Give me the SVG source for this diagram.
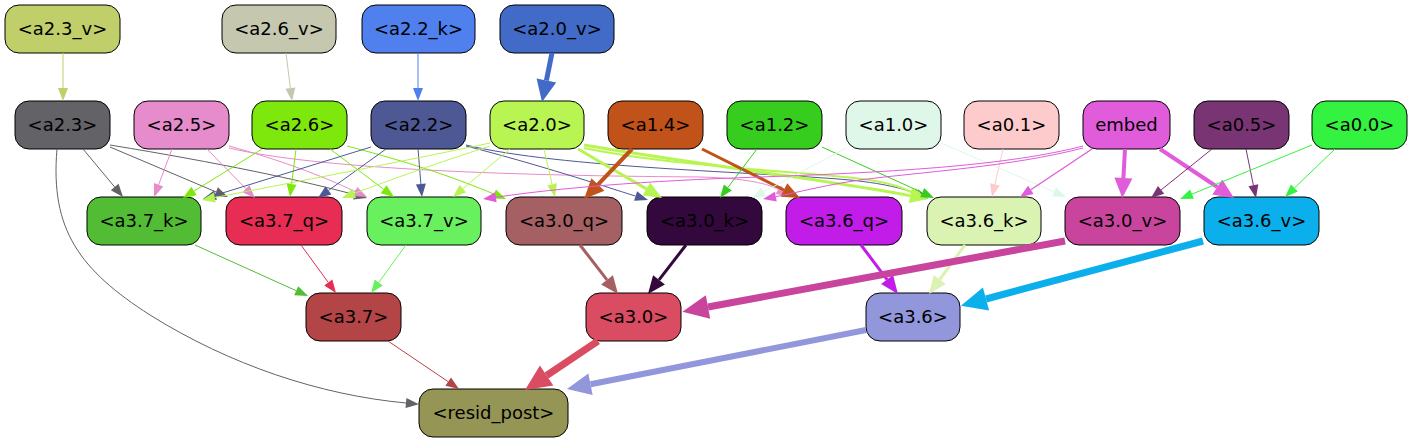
<svg xmlns="http://www.w3.org/2000/svg" width="1413" height="443" viewBox="0 0 1413 443">
<style>
.n rect{stroke:#000;stroke-width:1}
.n text{font-family:"DejaVu Sans","Liberation Sans",sans-serif;font-size:18px;text-anchor:middle;fill:#000}
#edges path{fill:none}
</style>
<defs>
<marker id="t-c1cf6a" markerUnits="userSpaceOnUse" orient="auto" markerWidth="40" markerHeight="40" refX="0" refY="0" overflow="visible"><path d="M0,-5L13,0L0,5z" fill="#c1cf6a"/></marker>
<marker id="t-c5c7ae" markerUnits="userSpaceOnUse" orient="auto" markerWidth="40" markerHeight="40" refX="0" refY="0" overflow="visible"><path d="M0,-5L13,0L0,5z" fill="#c5c7ae"/></marker>
<marker id="t-4f80ee" markerUnits="userSpaceOnUse" orient="auto" markerWidth="40" markerHeight="40" refX="0" refY="0" overflow="visible"><path d="M0,-5L13,0L0,5z" fill="#4f80ee"/></marker>
<marker id="t-636267" markerUnits="userSpaceOnUse" orient="auto" markerWidth="40" markerHeight="40" refX="0" refY="0" overflow="visible"><path d="M0,-5L13,0L0,5z" fill="#636267"/></marker>
<marker id="t-e68bcb" markerUnits="userSpaceOnUse" orient="auto" markerWidth="40" markerHeight="40" refX="0" refY="0" overflow="visible"><path d="M0,-5L13,0L0,5z" fill="#e68bcb"/></marker>
<marker id="t-7ee80c" markerUnits="userSpaceOnUse" orient="auto" markerWidth="40" markerHeight="40" refX="0" refY="0" overflow="visible"><path d="M0,-5L13,0L0,5z" fill="#7ee80c"/></marker>
<marker id="t-4e5895" markerUnits="userSpaceOnUse" orient="auto" markerWidth="40" markerHeight="40" refX="0" refY="0" overflow="visible"><path d="M0,-5L13,0L0,5z" fill="#4e5895"/></marker>
<marker id="t-b9f552" markerUnits="userSpaceOnUse" orient="auto" markerWidth="40" markerHeight="40" refX="0" refY="0" overflow="visible"><path d="M0,-5L13,0L0,5z" fill="#b9f552"/></marker>
<marker id="t-37cd1f" markerUnits="userSpaceOnUse" orient="auto" markerWidth="40" markerHeight="40" refX="0" refY="0" overflow="visible"><path d="M0,-5L13,0L0,5z" fill="#37cd1f"/></marker>
<marker id="t-dff7e9" markerUnits="userSpaceOnUse" orient="auto" markerWidth="40" markerHeight="40" refX="0" refY="0" overflow="visible"><path d="M0,-5L13,0L0,5z" fill="#dff7e9"/></marker>
<marker id="t-fecbcd" markerUnits="userSpaceOnUse" orient="auto" markerWidth="40" markerHeight="40" refX="0" refY="0" overflow="visible"><path d="M0,-5L13,0L0,5z" fill="#fecbcd"/></marker>
<marker id="t-e05cda" markerUnits="userSpaceOnUse" orient="auto" markerWidth="40" markerHeight="40" refX="0" refY="0" overflow="visible"><path d="M0,-5L13,0L0,5z" fill="#e05cda"/></marker>
<marker id="t-793573" markerUnits="userSpaceOnUse" orient="auto" markerWidth="40" markerHeight="40" refX="0" refY="0" overflow="visible"><path d="M0,-5L13,0L0,5z" fill="#793573"/></marker>
<marker id="t-33f240" markerUnits="userSpaceOnUse" orient="auto" markerWidth="40" markerHeight="40" refX="0" refY="0" overflow="visible"><path d="M0,-5L13,0L0,5z" fill="#33f240"/></marker>
<marker id="t-52bd34" markerUnits="userSpaceOnUse" orient="auto" markerWidth="40" markerHeight="40" refX="0" refY="0" overflow="visible"><path d="M0,-5L13,0L0,5z" fill="#52bd34"/></marker>
<marker id="t-e72d54" markerUnits="userSpaceOnUse" orient="auto" markerWidth="40" markerHeight="40" refX="0" refY="0" overflow="visible"><path d="M0,-5L13,0L0,5z" fill="#e72d54"/></marker>
<marker id="t-69f05f" markerUnits="userSpaceOnUse" orient="auto" markerWidth="40" markerHeight="40" refX="0" refY="0" overflow="visible"><path d="M0,-5L13,0L0,5z" fill="#69f05f"/></marker>
<marker id="t-b44546" markerUnits="userSpaceOnUse" orient="auto" markerWidth="40" markerHeight="40" refX="0" refY="0" overflow="visible"><path d="M0,-5L13,0L0,5z" fill="#b44546"/></marker>
<marker id="w2-b9f552" markerUnits="userSpaceOnUse" orient="auto" markerWidth="40" markerHeight="40" refX="0" refY="0" overflow="visible"><path d="M0,-6L15,0L0,6z" fill="#b9f552"/></marker>
<marker id="w3-b9f552" markerUnits="userSpaceOnUse" orient="auto" markerWidth="40" markerHeight="40" refX="0" refY="0" overflow="visible"><path d="M0,-7.5L18,0L0,7.5z" fill="#b9f552"/></marker>
<marker id="w3-c1521a" markerUnits="userSpaceOnUse" orient="auto" markerWidth="40" markerHeight="40" refX="0" refY="0" overflow="visible"><path d="M0,-7.5L18,0L0,7.5z" fill="#c1521a"/></marker>
<marker id="w3-a46063" markerUnits="userSpaceOnUse" orient="auto" markerWidth="40" markerHeight="40" refX="0" refY="0" overflow="visible"><path d="M0,-7.5L18,0L0,7.5z" fill="#a46063"/></marker>
<marker id="w3-33083c" markerUnits="userSpaceOnUse" orient="auto" markerWidth="40" markerHeight="40" refX="0" refY="0" overflow="visible"><path d="M0,-7.5L18,0L0,7.5z" fill="#33083c"/></marker>
<marker id="w3-c21ce9" markerUnits="userSpaceOnUse" orient="auto" markerWidth="40" markerHeight="40" refX="0" refY="0" overflow="visible"><path d="M0,-7.5L18,0L0,7.5z" fill="#c21ce9"/></marker>
<marker id="w3-dbf3b2" markerUnits="userSpaceOnUse" orient="auto" markerWidth="40" markerHeight="40" refX="0" refY="0" overflow="visible"><path d="M0,-7.5L18,0L0,7.5z" fill="#dbf3b2"/></marker>
<marker id="w4-c1521a" markerUnits="userSpaceOnUse" orient="auto" markerWidth="40" markerHeight="40" refX="0" refY="0" overflow="visible"><path d="M0,-9L20,0L0,9z" fill="#c1521a"/></marker>
<marker id="w4-e05cda" markerUnits="userSpaceOnUse" orient="auto" markerWidth="40" markerHeight="40" refX="0" refY="0" overflow="visible"><path d="M0,-9L20,0L0,9z" fill="#e05cda"/></marker>
<marker id="w5-416bc7" markerUnits="userSpaceOnUse" orient="auto" markerWidth="40" markerHeight="40" refX="0" refY="0" overflow="visible"><path d="M0,-10L22,0L0,10z" fill="#416bc7"/></marker>
<marker id="w6-9297db" markerUnits="userSpaceOnUse" orient="auto" markerWidth="40" markerHeight="40" refX="0" refY="0" overflow="visible"><path d="M0,-11L24,0L0,11z" fill="#9297db"/></marker>
<marker id="w7-c9449c" markerUnits="userSpaceOnUse" orient="auto" markerWidth="40" markerHeight="40" refX="0" refY="0" overflow="visible"><path d="M0,-12L26,0L0,12z" fill="#c9449c"/></marker>
<marker id="w7-0aafec" markerUnits="userSpaceOnUse" orient="auto" markerWidth="40" markerHeight="40" refX="0" refY="0" overflow="visible"><path d="M0,-12L26,0L0,12z" fill="#0aafec"/></marker>
<marker id="w7-d94c61" markerUnits="userSpaceOnUse" orient="auto" markerWidth="40" markerHeight="40" refX="0" refY="0" overflow="visible"><path d="M0,-12L26,0L0,12z" fill="#d94c61"/></marker>
</defs>
<rect width="1413" height="443" fill="#fff"/>

<g id="nodes">
<g id="a2.3_v" class="n"><rect x="5" y="5" width="115" height="48" rx="14" fill="#c1cf6a"/><text x="62.5" y="35">&lt;a2.3_v&gt;</text></g>
<g id="a2.6_v" class="n"><rect x="222" y="5" width="114" height="48" rx="14" fill="#c5c7ae"/><text x="279" y="35">&lt;a2.6_v&gt;</text></g>
<g id="a2.2_k" class="n"><rect x="362" y="5" width="113" height="48" rx="14" fill="#4f80ee"/><text x="418.5" y="35">&lt;a2.2_k&gt;</text></g>
<g id="a2.0_v" class="n"><rect x="500" y="5" width="114" height="48" rx="14" fill="#416bc7"/><text x="557" y="35">&lt;a2.0_v&gt;</text></g>

<g id="a2.3" class="n"><rect x="15" y="101" width="95" height="48" rx="14" fill="#636267"/><text x="62.5" y="131">&lt;a2.3&gt;</text></g>
<g id="a2.5" class="n"><rect x="134" y="101" width="95" height="48" rx="14" fill="#e68bcb"/><text x="181.5" y="131">&lt;a2.5&gt;</text></g>
<g id="a2.6" class="n"><rect x="252" y="101" width="95" height="48" rx="14" fill="#7ee80c"/><text x="299.5" y="131">&lt;a2.6&gt;</text></g>
<g id="a2.2" class="n"><rect x="371" y="101" width="95" height="48" rx="14" fill="#4e5895"/><text x="418.5" y="131">&lt;a2.2&gt;</text></g>
<g id="a2.0" class="n"><rect x="490" y="101" width="94" height="48" rx="14" fill="#b9f552"/><text x="537" y="131">&lt;a2.0&gt;</text></g>
<g id="a1.4" class="n"><rect x="608" y="101" width="95" height="48" rx="14" fill="#c1521a"/><text x="655.5" y="131">&lt;a1.4&gt;</text></g>
<g id="a1.2" class="n"><rect x="727" y="101" width="95" height="48" rx="14" fill="#37cd1f"/><text x="774.5" y="131">&lt;a1.2&gt;</text></g>
<g id="a1.0" class="n"><rect x="846" y="101" width="95" height="48" rx="14" fill="#dff7e9"/><text x="893.5" y="131">&lt;a1.0&gt;</text></g>
<g id="a0.1" class="n"><rect x="964" y="101" width="95" height="48" rx="14" fill="#fecbcd"/><text x="1011.5" y="131">&lt;a0.1&gt;</text></g>
<g id="embed" class="n"><rect x="1083" y="101" width="87" height="48" rx="14" fill="#e05cda"/><text x="1126.5" y="131">embed</text></g>
<g id="a0.5" class="n"><rect x="1194" y="101" width="95" height="48" rx="14" fill="#793573"/><text x="1241.5" y="131">&lt;a0.5&gt;</text></g>
<g id="a0.0" class="n"><rect x="1312" y="101" width="95" height="48" rx="14" fill="#33f240"/><text x="1359.5" y="131">&lt;a0.0&gt;</text></g>

<g id="a3.7_k" class="n"><rect x="87" y="197" width="114" height="48" rx="14" fill="#52bd34"/><text x="144" y="227">&lt;a3.7_k&gt;</text></g>
<g id="a3.7_q" class="n"><rect x="226" y="197" width="116" height="48" rx="14" fill="#e72d54"/><text x="284" y="227">&lt;a3.7_q&gt;</text></g>
<g id="a3.7_v" class="n"><rect x="367" y="197" width="114" height="48" rx="14" fill="#69f05f"/><text x="424" y="227">&lt;a3.7_v&gt;</text></g>
<g id="a3.0_q" class="n"><rect x="506" y="197" width="116" height="48" rx="14" fill="#a46063"/><text x="564" y="227">&lt;a3.0_q&gt;</text></g>
<g id="a3.0_k" class="n"><rect x="647" y="197" width="115" height="48" rx="14" fill="#33083c"/><text x="704.5" y="227">&lt;a3.0_k&gt;</text></g>
<g id="a3.6_q" class="n"><rect x="786" y="197" width="116" height="48" rx="14" fill="#c21ce9"/><text x="844" y="227">&lt;a3.6_q&gt;</text></g>
<g id="a3.6_k" class="n"><rect x="927" y="197" width="114" height="48" rx="14" fill="#dbf3b2"/><text x="984" y="227">&lt;a3.6_k&gt;</text></g>
<g id="a3.0_v" class="n"><rect x="1065" y="197" width="115" height="48" rx="14" fill="#c9449c"/><text x="1122.5" y="227">&lt;a3.0_v&gt;</text></g>
<g id="a3.6_v" class="n"><rect x="1204" y="197" width="115" height="48" rx="14" fill="#0aafec"/><text x="1261.5" y="227">&lt;a3.6_v&gt;</text></g>

<g id="a3.7" class="n"><rect x="306" y="293" width="95" height="48" rx="14" fill="#b44546"/><text x="353.5" y="323">&lt;a3.7&gt;</text></g>
<g id="a3.0" class="n"><rect x="586" y="293" width="95" height="48" rx="14" fill="#d94c61"/><text x="633.5" y="323">&lt;a3.0&gt;</text></g>
<g id="a3.6" class="n"><rect x="866" y="293" width="94" height="48" rx="14" fill="#9297db"/><text x="913" y="323">&lt;a3.6&gt;</text></g>

<g id="resid_post" class="n"><rect x="419" y="389" width="149" height="48" rx="14" fill="#959555"/><text x="493.5" y="419">&lt;resid_post&gt;</text></g>
</g>

<g id="edges">
<path d="M63,53L63,88" stroke="#c1cf6a" stroke-width="1" marker-end="url(#t-c1cf6a)"/>
<path d="M286,53L290.4,88.1" stroke="#c5c7ae" stroke-width="1" marker-end="url(#t-c5c7ae)"/>
<path d="M418,53L418,88" stroke="#4f80ee" stroke-width="1" marker-end="url(#t-4f80ee)"/>
<path d="M552,53L546.4,80.4" stroke="#416bc7" stroke-width="5" marker-end="url(#w5-416bc7)"/>

<path d="M83,149L114.7,187" stroke="#636267" stroke-width="1" marker-end="url(#t-636267)"/>
<path d="M110,147L216,191.9" stroke="#636267" stroke-width="1" marker-end="url(#t-636267)"/>
<path d="M110,145C220,163 300,180 354.5,194.6" stroke="#636267" stroke-width="1" marker-end="url(#t-636267)"/>
<path d="M57,149C50,230 80,270 150,315C230,365 320,395 406,403" stroke="#636267" stroke-width="1" marker-end="url(#t-636267)"/>

<path d="M172,149L158.6,184.8" stroke="#e68bcb" stroke-width="1" marker-end="url(#t-e68bcb)"/>
<path d="M207,149L245.9,188.7" stroke="#e68bcb" stroke-width="1" marker-end="url(#t-e68bcb)"/>
<path d="M229,146C280,160 320,175 355.2,191.5" stroke="#e68bcb" stroke-width="1" marker-end="url(#t-e68bcb)"/>
<path d="M229,148C330,172 560,176 700,177C745,178 770,184 778.3,189.7" stroke="#e68bcb" stroke-width="1" marker-end="url(#t-e68bcb)"/>

<path d="M262,149L194,191.1" stroke="#7ee80c" stroke-width="1" marker-end="url(#t-7ee80c)"/>
<path d="M296,149L291.6,184.1" stroke="#7ee80c" stroke-width="1" marker-end="url(#t-7ee80c)"/>
<path d="M330,149L383.6,189.2" stroke="#7ee80c" stroke-width="1" marker-end="url(#t-7ee80c)"/>
<path d="M347,146C420,165 460,180 494,194" stroke="#7ee80c" stroke-width="1" marker-end="url(#t-7ee80c)"/>

<path d="M371,147L215.4,195.2" stroke="#4e5895" stroke-width="1" marker-end="url(#t-4e5895)"/>
<path d="M386,149L328.5,190.4" stroke="#4e5895" stroke-width="1" marker-end="url(#t-4e5895)"/>
<path d="M418,149L420.9,184" stroke="#4e5895" stroke-width="1" marker-end="url(#t-4e5895)"/>
<path d="M466,146C540,165 600,185 635.6,196.1" stroke="#4e5895" stroke-width="1" marker-end="url(#t-4e5895)"/>
<path d="M466,145C560,168 760,172 850,180C890,184 910,191 916.1,193.7" stroke="#4e5895" stroke-width="1" marker-end="url(#t-4e5895)"/>

<path d="M490,143C400,162 280,185 214.8,197.5" stroke="#b9f552" stroke-width="1" marker-end="url(#t-b9f552)"/>
<path d="M490,146C440,162 390,180 354.2,193.4" stroke="#b9f552" stroke-width="1" marker-end="url(#t-b9f552)"/>
<path d="M510,149L462.9,188.6" stroke="#b9f552" stroke-width="1" marker-end="url(#t-b9f552)"/>
<path d="M544,149L552.1,184.3" stroke="#b9f552" stroke-width="1" marker-end="url(#t-b9f552)"/>
<path d="M578,149L646.4,188.9" stroke="#b9f552" stroke-width="3" marker-end="url(#w3-b9f552)"/>
<path d="M584,148C680,168 820,172 870,180C895,184 905,189 913,193" stroke="#b9f552" stroke-width="2" marker-end="url(#w2-b9f552)"/>
<path d="M584,145C700,165 830,180 910.3,195.6" stroke="#b9f552" stroke-width="3" marker-end="url(#w3-b9f552)"/>

<path d="M632,149L597.9,184.6" stroke="#c1521a" stroke-width="4" marker-end="url(#w4-c1521a)"/>
<path d="M702,149L783.9,190" stroke="#c1521a" stroke-width="3" marker-end="url(#w3-c1521a)"/>

<path d="M757,149L727.8,187.6" stroke="#37cd1f" stroke-width="1" marker-end="url(#t-37cd1f)"/>
<path d="M822,147L922.2,192.6" stroke="#37cd1f" stroke-width="1" marker-end="url(#t-37cd1f)"/>

<path d="M846,148L763.5,191.9" stroke="#dff7e9" stroke-width="1" marker-end="url(#t-dff7e9)"/>
<path d="M941,143L1054.1,191.9" stroke="#dff7e9" stroke-width="1" marker-end="url(#t-dff7e9)"/>

<path d="M1003,149L994.9,184.3" stroke="#fecbcd" stroke-width="1" marker-end="url(#t-fecbcd)"/>

<path d="M1083,146C1010,165 900,172 760,177C640,181 560,188 495.9,197.2" stroke="#e05cda" stroke-width="1" marker-end="url(#t-e05cda)"/>
<path d="M1083,148C1010,167 920,172 860,180C820,186 800,192 775.8,196.6" stroke="#e05cda" stroke-width="1" marker-end="url(#t-e05cda)"/>
<path d="M1092,149L1030.8,189.8" stroke="#e05cda" stroke-width="1.3" marker-end="url(#t-e05cda)"/>
<path d="M1125,149L1123.4,178" stroke="#e05cda" stroke-width="4" marker-end="url(#w4-e05cda)"/>
<path d="M1160,149L1217.3,187" stroke="#e05cda" stroke-width="4" marker-end="url(#w4-e05cda)"/>

<path d="M1212,149L1161.1,189.9" stroke="#793573" stroke-width="1" marker-end="url(#t-793573)"/>
<path d="M1246,149L1253.4,185.3" stroke="#793573" stroke-width="1" marker-end="url(#t-793573)"/>

<path d="M1312,145L1192,194.1" stroke="#33f240" stroke-width="1" marker-end="url(#t-33f240)"/>
<path d="M1335,149L1294.4,188" stroke="#33f240" stroke-width="1" marker-end="url(#t-33f240)"/>

<path d="M195,245L296.2,290.7" stroke="#52bd34" stroke-width="1" marker-end="url(#t-52bd34)"/>
<path d="M301,245L328.3,282.5" stroke="#e72d54" stroke-width="1" marker-end="url(#t-e72d54)"/>
<path d="M406,245L378.7,282.5" stroke="#69f05f" stroke-width="1" marker-end="url(#t-69f05f)"/>
<path d="M580,245L607,279.8" stroke="#a46063" stroke-width="3" marker-end="url(#w3-a46063)"/>
<path d="M686,245L659,279.8" stroke="#33083c" stroke-width="3" marker-end="url(#w3-33083c)"/>
<path d="M861,245L887.1,279.6" stroke="#c21ce9" stroke-width="3" marker-end="url(#w3-c21ce9)"/>
<path d="M965,245L939.7,279.5" stroke="#dbf3b2" stroke-width="3" marker-end="url(#w3-dbf3b2)"/>
<path d="M1065,241C950,262 800,290 708,307" stroke="#c9449c" stroke-width="7" marker-end="url(#w7-c9449c)"/>
<path d="M1203,241L986,299" stroke="#0aafec" stroke-width="7" marker-end="url(#w7-0aafec)"/>

<path d="M388,341L448.2,381.7" stroke="#b44546" stroke-width="1" marker-end="url(#t-b44546)"/>
<path d="M598,341L546.6,375.5" stroke="#d94c61" stroke-width="7" marker-end="url(#w7-d94c61)"/>
<path d="M866,330L590.5,384.3" stroke="#9297db" stroke-width="6" marker-end="url(#w6-9297db)"/>
</g>
</svg>
